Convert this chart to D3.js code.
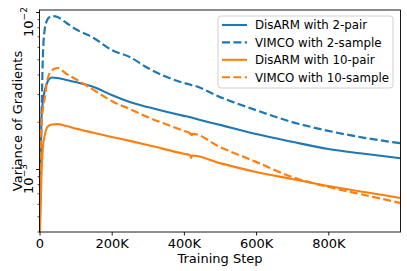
<!DOCTYPE html>
<html>
<head>
<meta charset="utf-8">
<script src="https://cdn.jsdelivr.net/npm/d3@7/dist/d3.min.js"></script>
<style>
  html, body { margin: 0; padding: 0; background: #fff; }
  svg { display: block; }
  text { font-family: "DejaVu Sans", sans-serif; fill: #000; }
</style>
</head>
<body>
<svg id="chart" width="407" height="271"></svg>
<script>
// ---- data ----
const steps = [0, 5000, 10000, 15000, 20000, 25000, 35000, 50000, 75000, 100000, 150000,
               200000, 250000, 300000, 400000, 417000, 420000, 423000, 500000, 600000, 700000, 800000, 900000, 1000000];

const disarm2 = [3.0e-4, 2.0e-3, 2.75e-3, 3.19e-3, 3.48e-3, 3.69e-3, 3.83e-3, 3.80e-3, 3.69e-3, 3.58e-3, 3.33e-3,
                 2.96e-3, 2.67e-3, 2.48e-3, 2.18e-3, 2.14e-3, 2.13e-3, 2.12e-3, 1.91e-3, 1.67e-3, 1.49e-3, 1.34e-3, 1.25e-3, 1.17e-3];
const vimco2  = [3.0e-4, 1.77e-3, 5.7e-3, 7.91e-3, 8.76e-3, 9.16e-3, 9.43e-3, 9.29e-3, 8.51e-3, 7.79e-3, 6.83e-3,
                 5.73e-3, 5.17e-3, 4.40e-3, 3.53e-3, 3.45e-3, 3.43e-3, 3.42e-3, 2.87e-3, 2.37e-3, 1.99e-3, 1.75e-3, 1.58e-3, 1.46e-3];
const disarm10 = [3.0e-4, 8.51e-4, 1.42e-3, 1.65e-3, 1.82e-3, 1.88e-3, 1.92e-3, 1.93e-3, 1.88e-3, 1.81e-3, 1.70e-3,
                  1.60e-3, 1.51e-3, 1.42e-3, 1.25e-3, 1.225e-3, 1.175e-3, 1.218e-3, 1.09e-3, 9.57e-4, 8.64e-4, 7.79e-4, 7.14e-4, 6.54e-4];
const vimco10 = [3.0e-4, 1.91e-3, 2.45e-3, 2.87e-3, 3.53e-3, 3.91e-3, 4.27e-3, 4.40e-3, 4.03e-3, 3.74e-3, 3.19e-3,
                 2.71e-3, 2.41e-3, 2.14e-3, 1.75e-3, 1.69e-3, 1.60e-3, 1.675e-3, 1.38e-3, 1.11e-3, 8.89e-4, 7.68e-4, 6.83e-4, 6.07e-4];

const seriesNames = ["DisARM with 2-pair", "VIMCO with 2-sample", "DisARM with 10-pair", "VIMCO with 10-sample"];
const seriesValues = [disarm2, vimco2, disarm10, vimco10];
const seriesColors = ["#1f77b4", "#1f77b4", "#ff7f0e", "#ff7f0e"];
const seriesDashed = [false, true, false, true];

const xTickValues = [0, 200000, 400000, 600000, 800000];
const xTickLabels = ["0", "200K", "400K", "600K", "800K"];
const yMajorTicks = [1e-3, 1e-2];
const yMajorExponents = ["\u22123", "\u22122"];
const yMinorTicks = [4e-4, 5e-4, 6e-4, 7e-4, 8e-4, 9e-4, 2e-3, 3e-3, 4e-3, 5e-3, 6e-3, 7e-3, 8e-3, 9e-3];

const xLabel = "Training Step";
const yLabel = "Variance of Gradients";

// ---- layout ----
const svg = d3.select("#chart");
const L = 39.5, R = 400.5, T = 10, B = 232;

const x = d3.scaleLinear().domain([0, 1000000]).range([L, R]);
const y = d3.scaleLog().domain([3.969e-4, 1.0298e-2]).range([B, T]);

svg.append("defs").append("clipPath").attr("id", "clip")
  .append("rect").attr("x", L).attr("y", T).attr("width", R - L).attr("height", B - T);

// lines
const line = d3.line().x(d => x(d[0])).y(d => y(d[1])).curve(d3.curveMonotoneX);
const plot = svg.append("g").attr("clip-path", "url(#clip)");
seriesValues.forEach((vals, i) => {
  const pts = steps.map((s, j) => [s, vals[j]]);
  plot.append("path")
    .datum(pts)
    .attr("d", line)
    .attr("fill", "none")
    .attr("stroke", seriesColors[i])
    .attr("stroke-width", seriesDashed[i] ? 2.2 : 2.1)
    .attr("stroke-dasharray", seriesDashed[i] ? "8,3.4" : null)
    .attr("stroke-linecap", "butt");
});

// x axis
const xAxis = d3.axisBottom(x).tickValues(xTickValues)
  .tickFormat((d, i) => xTickLabels[i]).tickSize(3.5).tickPadding(3);
const gx = svg.append("g").attr("transform", `translate(0,${B})`).call(xAxis);
gx.select(".domain").remove();
gx.selectAll("text").style("font-size", "13px").style("font-family", "DejaVu Sans");
gx.selectAll("line").attr("stroke", "#000").attr("stroke-width", 0.9);

// y axis majors (labels drawn separately, rotated)
const yAxisMajor = d3.axisLeft(y).tickValues(yMajorTicks).tickFormat("").tickSize(3.5);
const gy = svg.append("g").attr("transform", `translate(${L},0)`).call(yAxisMajor);
gy.select(".domain").remove();
gy.selectAll("line").attr("stroke", "#000").attr("stroke-width", 0.9);

const yAxisMinor = d3.axisLeft(y).tickValues(yMinorTicks).tickFormat("").tickSize(2);
const gym = svg.append("g").attr("transform", `translate(${L},0)`).call(yAxisMinor);
gym.select(".domain").remove();
gym.selectAll("line").attr("stroke", "#000").attr("stroke-width", 0.7);

// rotated y tick labels 10^-n
yMajorTicks.forEach((v, i) => {
  const t = svg.append("text")
    .attr("transform", `translate(${L - 7},${y(v) + 10}) rotate(-90)`)
    .attr("text-anchor", "middle")
    .style("font-size", "13px");
  t.append("tspan").text("10");
  t.append("tspan").attr("dy", -5.5).style("font-size", "9px").text(yMajorExponents[i]);
});

// frame
svg.append("rect").attr("x", L).attr("y", T).attr("width", R - L).attr("height", B - T)
  .attr("fill", "none").attr("stroke", "#000").attr("stroke-width", 0.9);

// axis labels
svg.append("text").attr("x", (L + R) / 2).attr("y", 263).attr("text-anchor", "middle")
  .style("font-size", "13px").text(xLabel);
svg.append("text").attr("transform", `translate(22,${(T + B) / 2}) rotate(-90)`)
  .attr("text-anchor", "middle").style("font-size", "13px").text(yLabel);

// legend
const lg = svg.append("g");
lg.append("rect").attr("x", 218).attr("y", 16).attr("width", 175).attr("height", 72)
  .attr("rx", 3).attr("fill", "#fff").attr("fill-opacity", 0.8)
  .attr("stroke", "#cccccc").attr("stroke-width", 0.9);
seriesNames.forEach((name, i) => {
  const ry = 25 + i * 17.4;
  lg.append("line").attr("x1", 222).attr("x2", 247).attr("y1", ry).attr("y2", ry)
    .attr("stroke", seriesColors[i]).attr("stroke-width", 2.1)
    .attr("stroke-dasharray", seriesDashed[i] ? "8,3.4" : null);
  lg.append("text").attr("x", 255).attr("y", ry + 4.3).style("font-size", "11.8px").text(name);
});
</script>
</body>
</html>
